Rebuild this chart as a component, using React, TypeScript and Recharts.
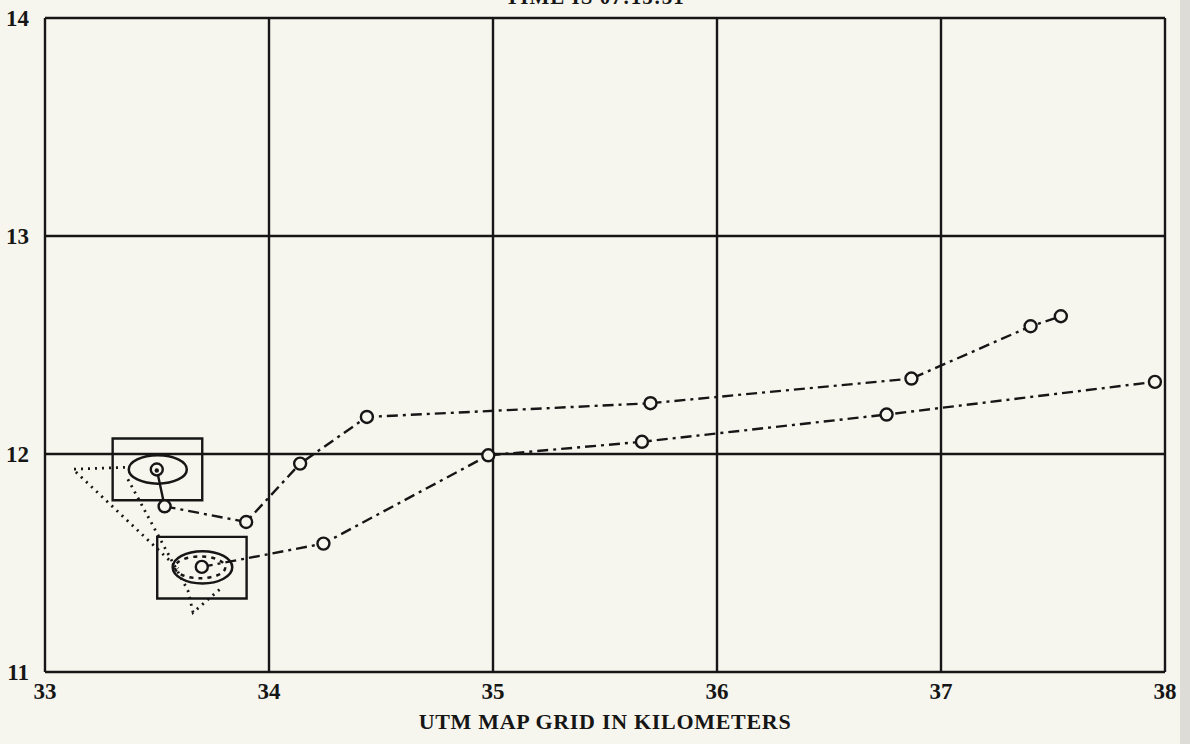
import React from 'react';
import { LineChart, Line, XAxis, YAxis, CartesianGrid, ReferenceArea } from 'recharts';

const TITLE = 'TIME IS 07:15:31';
const X_LABEL = 'UTM MAP GRID IN KILOMETERS';
const X_TICKS = [33, 34, 35, 36, 37, 38];
const Y_TICKS = [11, 12, 13, 14];

// Track 1 (upper)
const upperStartX = [33.499, 33.534];
const upperStartY = [11.929, 11.760];
const upperX = [33.534, 33.898, 34.139, 34.437, 35.703, 36.868, 37.400, 37.535];
const upperY = [11.760, 11.688, 11.956, 12.170, 12.233, 12.346, 12.586, 12.632];

// Track 2 (lower)
const lowerX = [33.700, 34.243, 34.979, 35.665, 36.757, 37.955];
const lowerY = [11.482, 11.589, 11.994, 12.056, 12.181, 12.331];

// Dotted cone lines
const cone1X = [33.357, 33.125, 33.594];
const cone1Y = [11.939, 11.930, 11.475];
const cone2X = [33.370, 33.638, 33.661, 33.790];
const cone2Y = [11.884, 11.374, 11.273, 11.388];

// Boxes [x1, x2, y1, y2]
const boxUpper = [33.302, 33.702, 11.788, 12.071];
const boxLower = [33.501, 33.900, 11.337, 11.620];
// Ellipses bounding boxes [x1, x2, y1, y2]
const ellUpper = [33.374, 33.633, 11.864, 11.994];
const ellLower = [33.570, 33.836, 11.406, 11.554];
const ellInner = [33.580, 33.805, 11.430, 11.530];

const zip = (xs: number[], ys: number[]) => xs.map((x, i) => ({ x, y: ys[i] }));

const INK = '#161616';
const BG = '#f7f6ee';
const FONT = '"Liberation Serif", "DejaVu Serif", serif';

const ringDot = (props: any) => {
  const { cx, cy, index } = props;
  if (cx == null || cy == null) return <g key={index} />;
  return <circle key={index} cx={cx} cy={cy} r={6} fill={BG} stroke={INK} strokeWidth={2.4} />;
};

const centerDot = (props: any) => {
  const { cx, cy, index } = props;
  if (cx == null || cy == null || index !== 0) return <g key={index} />;
  return (
    <g key={index}>
      <circle cx={cx} cy={cy} r={6} fill={BG} stroke={INK} strokeWidth={2.4} />
      <circle cx={cx} cy={cy + 1} r={2.2} fill={INK} />
    </g>
  );
};

const makeEllipse = (dash?: string) => (p: any) => (
  <ellipse
    cx={p.x + p.width / 2}
    cy={p.y + p.height / 2}
    rx={Math.abs(p.width / 2)}
    ry={Math.abs(p.height / 2)}
    fill="none"
    stroke={INK}
    strokeWidth={2.5}
    strokeDasharray={dash}
  />
);

const DASHDOT = '11 5 3 5';

export default function App() {
  return (
    <div style={{ position: 'absolute', left: 0, top: 0, width: 1190, height: 744, background: BG, overflow: 'hidden' }}>
      <div
        style={{
          position: 'absolute',
          top: -15,
          left: 0,
          width: 1190,
          textAlign: 'center',
          fontFamily: FONT,
          fontWeight: 'bold',
          fontSize: 21,
          color: INK,
          letterSpacing: 1,
        }}
      >
        {TITLE}
      </div>
      <div style={{ position: 'absolute', top: 0, right: 0, width: 10, height: 744, background: '#dedcd6' }} />
      <LineChart width={1190} height={744} margin={{ top: 18, right: 25, bottom: 0, left: 0 }}>
        <CartesianGrid stroke={INK} strokeWidth={2.4} horizontalValues={Y_TICKS} verticalValues={X_TICKS} />
        <XAxis
          dataKey="x"
          type="number"
          domain={[33, 38]}
          ticks={X_TICKS}
          allowDataOverflow
          axisLine={false}
          tickLine={false}
          height={72}
          tickMargin={5}
          tick={{ fontFamily: FONT, fontWeight: 'bold', fontSize: 23, fill: INK }}
          label={{
            value: X_LABEL,
            position: 'insideBottom',
            offset: 15,
            style: { fontFamily: FONT, fontWeight: 'bold', fontSize: 22, fill: INK, letterSpacing: 0.7 },
          }}
        />
        <YAxis
          dataKey="y"
          type="number"
          domain={[11, 14]}
          ticks={Y_TICKS}
          allowDataOverflow
          axisLine={false}
          tickLine={false}
          width={45}
          tickMargin={10}
          tick={{ fontFamily: FONT, fontWeight: 'bold', fontSize: 23, fill: INK }}
        />
        <ReferenceArea x1={boxUpper[0]} x2={boxUpper[1]} y1={boxUpper[2]} y2={boxUpper[3]} fill="none" fillOpacity={0} stroke={INK} strokeWidth={2.4} ifOverflow="visible" />
        <ReferenceArea x1={boxLower[0]} x2={boxLower[1]} y1={boxLower[2]} y2={boxLower[3]} fill="none" fillOpacity={0} stroke={INK} strokeWidth={2.4} ifOverflow="visible" />
        <ReferenceArea x1={ellUpper[0]} x2={ellUpper[1]} y1={ellUpper[2]} y2={ellUpper[3]} shape={makeEllipse()} ifOverflow="visible" />
        <ReferenceArea x1={ellLower[0]} x2={ellLower[1]} y1={ellLower[2]} y2={ellLower[3]} shape={makeEllipse()} ifOverflow="visible" />
        <ReferenceArea x1={ellInner[0]} x2={ellInner[1]} y1={ellInner[2]} y2={ellInner[3]} shape={makeEllipse('4 5')} ifOverflow="visible" />
        <Line data={zip(cone1X, cone1Y)} dataKey="y" type="linear" stroke={INK} strokeWidth={2.8} strokeDasharray="2 5" dot={false} isAnimationActive={false} />
        <Line data={zip(cone2X, cone2Y)} dataKey="y" type="linear" stroke={INK} strokeWidth={2.8} strokeDasharray="2 5" dot={false} isAnimationActive={false} />
        <Line data={zip(upperStartX, upperStartY)} dataKey="y" type="linear" stroke={INK} strokeWidth={2.4} dot={centerDot} isAnimationActive={false} />
        <Line data={zip(upperX, upperY)} dataKey="y" type="linear" stroke={INK} strokeWidth={2.4} strokeDasharray={DASHDOT} dot={ringDot} isAnimationActive={false} />
        <Line data={zip(lowerX, lowerY)} dataKey="y" type="linear" stroke={INK} strokeWidth={2.4} strokeDasharray={DASHDOT} dot={ringDot} isAnimationActive={false} />
      </LineChart>
    </div>
  );
}
